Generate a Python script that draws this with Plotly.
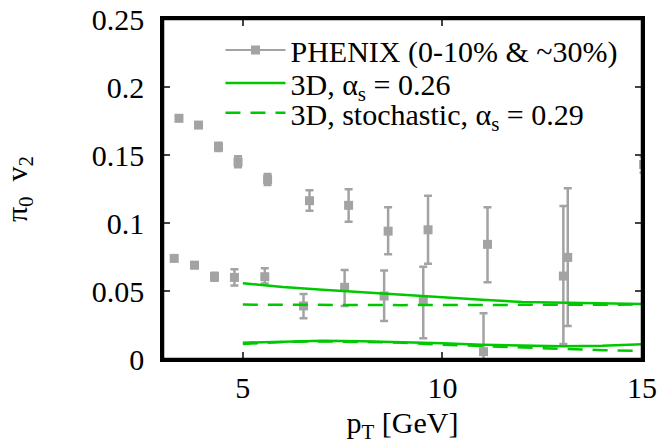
import plotly.graph_objects as go

# PHENIX data, upper set
up_x = [3.40, 3.89, 4.39, 4.88, 5.62, 6.67, 7.65, 8.64, 9.64, 11.13, 13.14, 15.04]
up_y = [0.177, 0.172, 0.156, 0.145, 0.132, 0.1164, 0.113, 0.094, 0.095, 0.0843, 0.0747, 0.143]
up_hi = [0.002, 0.002, 0.003, 0.004, 0.004, 0.0076, 0.0118, 0.0175, 0.025, 0.0272, 0.0508, 0.006]
up_lo = [0.002, 0.002, 0.003, 0.004, 0.004, 0.0074, 0.012, 0.017, 0.025, 0.0279, 0.0504, 0.006]

# PHENIX data, lower set
lo_x = [3.28, 3.79, 4.29, 4.79, 5.55, 6.52, 7.55, 8.54, 9.52, 11.03, 13.03]
lo_y = [0.074, 0.069, 0.0605, 0.060, 0.0605, 0.039, 0.0527, 0.0463, 0.0426, 0.0054, 0.061]
lo_hi = [0.002, 0.002, 0.003, 0.006, 0.0062, 0.0088, 0.0127, 0.0187, 0.0253, 0.0282, 0.0515]
lo_lo = [0.002, 0.002, 0.003, 0.006, 0.0049, 0.009, 0.0137, 0.0183, 0.0274, 0.03, 0.050]

# Model curves
pt = [5, 6, 7, 8, 9, 10, 11, 12, 13, 14, 15]
solid_hi = [0.0557, 0.053, 0.051, 0.049, 0.047, 0.045, 0.0435, 0.042, 0.0415, 0.041, 0.0405]
solid_lo = [0.012, 0.013, 0.0135, 0.013, 0.0125, 0.0115, 0.0105, 0.0097, 0.0093, 0.0097, 0.0108]
dash_hi = [0.040, 0.0398, 0.0397, 0.0396, 0.0396, 0.0397, 0.0398, 0.0399, 0.040, 0.040, 0.040]
dash_lo = [0.011, 0.0125, 0.013, 0.0125, 0.012, 0.0105, 0.0095, 0.008, 0.007, 0.0065, 0.006]

GRAY = "#a3a3a3"
GREEN = "#00c800"
FONT = "Liberation Serif"

fig = go.Figure()

for xs, ys, hi, lo in [(up_x, up_y, up_hi, up_lo), (lo_x, lo_y, lo_hi, lo_lo)]:
    fig.add_trace(go.Scatter(
        x=xs, y=ys, mode="markers", showlegend=False,
        marker=dict(symbol="square", size=9, color=GRAY),
        error_y=dict(type="data", array=hi, arrayminus=lo, color=GRAY, thickness=2.5, width=4),
    ))

# legend entry for PHENIX
fig.add_trace(go.Scatter(
    x=[None], y=[None], mode="lines+markers", name="PHENIX (0-10% &amp; ~30%)",
    line=dict(color=GRAY, width=2), marker=dict(symbol="square", size=9, color=GRAY),
    legend="legend",
))

fig.add_trace(go.Scatter(x=pt, y=solid_hi, mode="lines", name="3D, α<sub>s</sub> = 0.26",
                         line=dict(color=GREEN, width=2.5), legendgroup="s", legend="legend2"))
fig.add_trace(go.Scatter(x=pt, y=solid_lo, mode="lines", showlegend=False,
                         line=dict(color=GREEN, width=2.5), legendgroup="s", legend="legend2"))
fig.add_trace(go.Scatter(x=pt, y=dash_hi, mode="lines", name="3D, stochastic, α<sub>s</sub> = 0.29",
                         line=dict(color=GREEN, width=2.5, dash="15px,10px"), legendgroup="d",
                         legend="legend3"))
fig.add_trace(go.Scatter(x=pt, y=dash_lo, mode="lines", showlegend=False,
                         line=dict(color=GREEN, width=2.5, dash="15px,10px"), legendgroup="d",
                         legend="legend3"))

leg_common = dict(xanchor="left", yanchor="middle", bgcolor="rgba(0,0,0,0)",
                  font=dict(family=FONT, size=30), itemwidth=60, borderwidth=0)

fig.update_layout(
    width=664, height=444,
    margin=dict(l=163, r=22, t=19, b=85, autoexpand=False),
    paper_bgcolor="white", plot_bgcolor="white",
    font=dict(family=FONT, size=30, color="black"),
    showlegend=True,
    legend=dict(x=0.12, y=0.909, **leg_common),
    legend2=dict(x=0.12, y=0.812, **leg_common),
    legend3=dict(x=0.12, y=0.724, **leg_common),
    xaxis=dict(range=[3, 15], tickvals=[5, 10, 15], ticks="inside", ticklen=7, tickwidth=2,
               showline=True, linewidth=2.5, linecolor="black", mirror="ticks",
               showgrid=False, zeroline=False, ticklabelstandoff=0, automargin=True,
               ticklabeloverflow="allow",
               title=dict(text="p<sub>T</sub> [GeV]", standoff=26, font=dict(size=30))),
    yaxis=dict(range=[0, 0.25], tickvals=[0, 0.05, 0.1, 0.15, 0.2, 0.25],
               ticktext=["0", "0.05", "0.1", "0.15", "0.2", "0.25"],
               ticks="inside", ticklen=7, tickwidth=2,
               showline=True, linewidth=2.5, linecolor="black", mirror="ticks",
               showgrid=False, zeroline=False, ticklabelstandoff=10, automargin=False,
               ticklabeloverflow="allow",
               title=dict(text="π<sub>0</sub>  v<sub>2</sub>", standoff=69, font=dict(size=30))),
    shapes=[dict(type="rect", xref="paper", yref="paper", x0=0, x1=1, y0=0, y1=1,
                 line=dict(color="black", width=2.5), fillcolor="rgba(0,0,0,0)", layer="above")],
)

fig.write_html("out.html", config={"displayModeBar": False},
               post_script="document.body.style.margin='0';")
